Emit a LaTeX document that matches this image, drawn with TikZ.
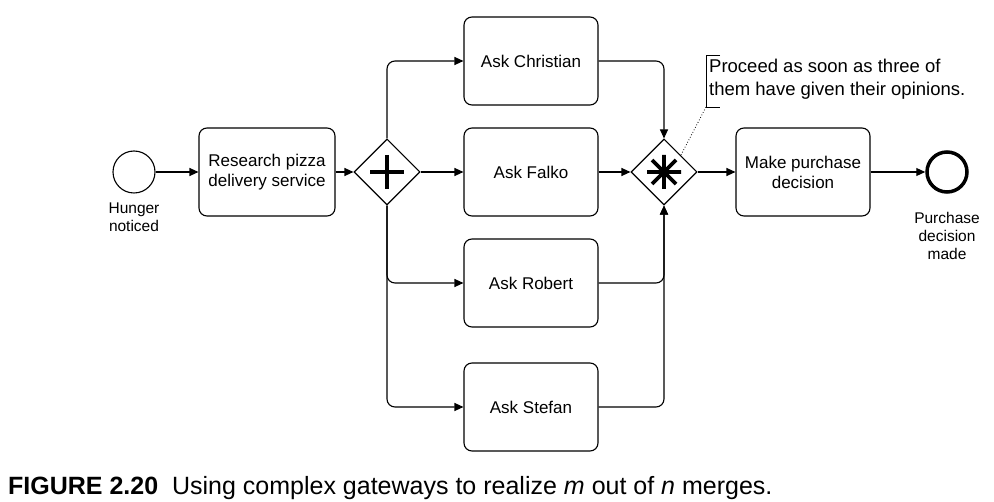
\documentclass[tikz,border=0pt]{standalone}
\usepackage{fontspec}
\setmainfont{Liberation Sans}
\usetikzlibrary{arrows.meta,shapes.geometric}
\begin{document}
\begin{tikzpicture}[x=1pt,y=-1pt,
  task/.style={draw,line width=1.1pt,rounded corners=8pt,minimum width=134pt,minimum height=88pt,align=center,font=\fontsize{17}{20}\selectfont,inner sep=0pt},
  gw/.style={draw,diamond,line width=1.1pt,minimum width=66pt,minimum height=66pt,inner sep=0pt,aspect=1},
  flow/.style={line width=1.1pt,-{Triangle[length=9pt,width=8pt]},rounded corners=8pt},
  lbl/.style={font=\fontsize{15.5}{18}\selectfont,align=center,inner sep=0pt}]
\useasboundingbox (0,0) rectangle (994,502);
\node[draw,circle,line width=1.1pt,minimum size=42pt,inner sep=0pt] (start) at (134,172) {};
\node[lbl,anchor=north] (startl) at (134,203) {Hunger\\noticed};
\node[task,minimum width=136pt] (research) at (267,172) {Research pizza\\delivery service};
\node[gw] (pg) at (387,172) {};
\draw[line width=3.8pt] (370,172) -- (404,172) (387,155) -- (387,189);
\node[task] (chr) at (531,61) {Ask Christian};
\node[task] (fal) at (531,172) {Ask Falko};
\node[task] (rob) at (531,283) {Ask Robert};
\node[task] (ste) at (531,407) {Ask Stefan};
\node[gw] (cg) at (664,172) {};
\draw[line width=3.8pt] (664,155) -- (664,189) (647,172) -- (681,172)
  (652,160) -- (676,184) (652,184) -- (676,160);
\node[task] (dec) at (803,172) {Make purchase\\decision};
\node[draw,circle,line width=3.5pt,minimum size=40pt,inner sep=0pt] (end) at (947,172) {};
\node[lbl,anchor=north] (endl) at (947,212) {Purchase\\decision\\made};
\draw[flow] (start) -- (research);
\draw[flow] (research) -- (pg);
\draw[flow] (pg.north) |- (chr.west);
\draw[flow] (pg) -- (fal);
\draw[flow] (pg.south) |- (rob.west);
\draw[flow] (pg.south) |- (ste.west);
\draw[flow] (chr.east) -| (cg.north);
\draw[flow] (fal) -- (cg);
\draw[flow] (rob.east) -| (cg.south);
\draw[flow] (ste.east) -| (cg.south);
\draw[flow] (cg) -- (dec);
\draw[flow] (dec) -- (end);
\coordinate (ba) at (720,55);
\coordinate (bb) at (706,55);
\coordinate (bc) at (706,107);
\coordinate (bd) at (720,107);
\draw[line width=0.8pt] (ba) -- (bb) -- (bc) -- (bd);
\node[anchor=north west,align=left,font=\fontsize{18.5}{23}\selectfont,inner sep=0pt] (note) at (709,59) {Proceed as soon as three of\\them have given their opinions.};
\draw[line width=0.8pt,dotted] (681,155) -- (bc);
\node[anchor=base west,inner sep=0pt,font=\fontsize{25}{28}\selectfont] (cap) at (8,495) {\textbf{FIGURE 2.20}\ \ Using complex gateways to realize \textit{m} out of \textit{n} merges.};
\end{tikzpicture}
\end{document}
